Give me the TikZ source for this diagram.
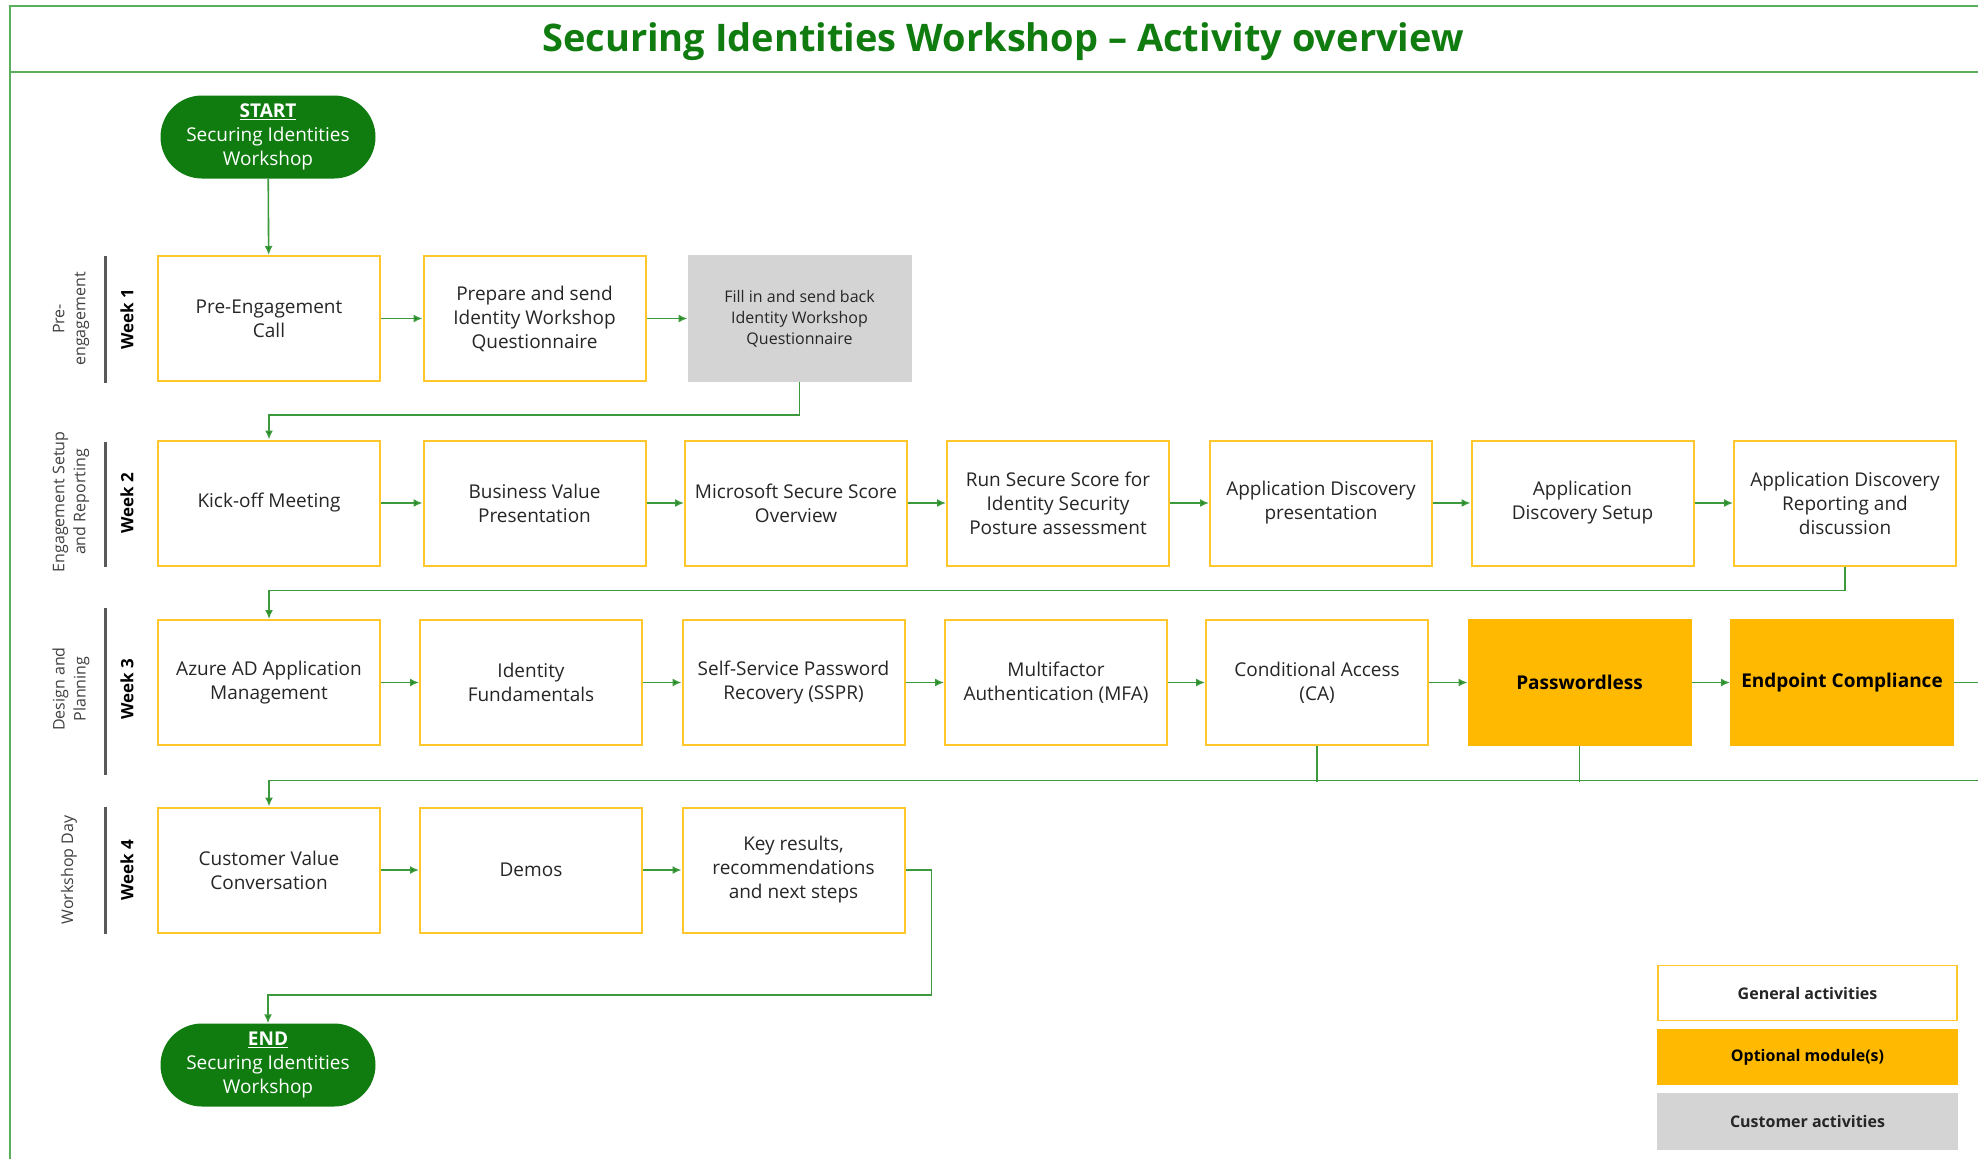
\documentclass[tikz,border=0pt]{standalone}
\usepackage{fontspec}
\setmainfont{Open Sans}
\usetikzlibrary{positioning,calc,arrows.meta,shapes.misc}

\definecolor{msgreen}{HTML}{107C10}
\definecolor{linegreen}{HTML}{3C9A3C}
\definecolor{framegreen}{HTML}{5BAE5B}
\definecolor{boxedge}{HTML}{FFC72C}
\definecolor{optfill}{HTML}{FFB900}
\definecolor{custfill}{HTML}{D4D4D4}
\definecolor{labelgray}{HTML}{404040}

\tikzset{
  act/.style={draw=boxedge, line width=2pt, fill=white, minimum width=222pt, minimum height=125pt,
    align=center, inner sep=2pt, text=black!85, font=\fontsize{19}{24}\selectfont},
  opt/.style={act, draw=optfill, fill=optfill, text=black, font=\fontsize{19}{24}\selectfont\bfseries},
  cust/.style={act, draw=custfill, fill=custfill, font=\fontsize{16}{21}\selectfont},
  pill/.style={rounded rectangle, fill=msgreen, text=white, minimum width=219pt, minimum height=83pt,
    align=center, inner sep=2pt, font=\fontsize{19}{24}\selectfont},
  flow/.style={draw=linegreen, line width=1.6pt, -{Latex[length=9pt,width=8pt,fill=msgreen]}},
  bus/.style={draw=linegreen, line width=1.6pt},
  week/.style={rotate=90, font=\fontsize{17}{20}\selectfont\bfseries},
  phase/.style={rotate=90, align=center, text=labelgray, font=\fontsize{16}{21}\selectfont},
  weekbar/.style={draw=black!65, line width=3pt},
  legend/.style={draw=boxedge, line width=1.5pt, fill=white, minimum width=299pt, minimum height=55pt,
    font=\fontsize{16}{18}\selectfont\bfseries, text=black!85}
}

\begin{document}
\begin{tikzpicture}[x=1pt, y=-1pt]
    \clip (0,0) rectangle (1978,1159);
    \fill[white] (0,0) rectangle (1978,1159);

    % frame and title
    \draw[framegreen, line width=2.5pt] (10,1159) -- (10,6) -- (1978,6);
    \draw[framegreen, line width=2.5pt] (10,72) -- (1978,72);
    \node[text=msgreen, font=\fontsize{38}{40}\selectfont\bfseries] (title) at (1003,42) {Securing Identities Workshop -- Activity overview};

    % start and end
    \node[pill] (start) at (268,137) {\underline{\textbf{START}}\\Securing Identities\\Workshop};
    \node[pill] (end) at (268,1065) {\underline{\textbf{END}}\\Securing Identities\\Workshop};

    % week 1
    \node[act] (precall) at (269,318.5) {Pre-Engagement\\Call};
    \node[act] (prepare) at (534.5,318.5) {Prepare and send\\Identity Workshop\\Questionnaire};
    \node[cust] (fillin) at (799.5,318.5) {Fill in and send back\\Identity Workshop\\Questionnaire};

    % week 2
    \node[act] (kickoff) at (269,503) {Kick-off Meeting};
    \node[act] (bizvalue) at (534.5,503) {Business Value\\Presentation};
    \node[act] (msscore) at (796,503) {Microsoft Secure Score\\Overview};
    \node[act] (runscore) at (1058,503) {Run Secure Score for\\Identity Security\\Posture assessment};
    \node[act] (adpres) at (1321,503) {Application Discovery\\presentation};
    \node[act] (adsetup) at (1582.5,503) {Application\\Discovery Setup};
    \node[act] (adreport) at (1845,503) {Application Discovery\\Reporting and\\discussion};

    % week 3
    \node[act] (azuread) at (269,682.5) {Azure AD Application\\Management};
    \node[act] (idfund) at (531,682.5) {Identity\\Fundamentals};
    \node[act] (sspr) at (793.5,682.5) {Self-Service Password\\Recovery (SSPR)};
    \node[act] (mfa) at (1056,682.5) {Multifactor\\Authentication (MFA)};
    \node[act] (condacc) at (1317,682.5) {Conditional Access\\(CA)};
    \node[opt] (pwdless) at (1579.5,682.5) {Passwordless};
    \node[opt] (endpoint) at (1842,682.5) {Endpoint Compliance};

    % week 4
    \node[act] (custval) at (269,870) {Customer Value\\Conversation};
    \node[act] (demos) at (531,870) {Demos};
    \node[act] (keyres) at (793.5,870) {Key results,\\recommendations\\and next steps};

    % week and phase labels
    \draw[weekbar] (105,256) -- (105,383);
    \draw[weekbar] (105,442) -- (105,567);
    \draw[weekbar] (105,608) -- (105,775);
    \draw[weekbar] (105,807) -- (105,934);
    \node[week] (w1) at (127,319) {Week 1};
    \node[week] (w2) at (127,503) {Week 2};
    \node[week] (w3) at (127,689) {Week 3};
    \node[week] (w4) at (127,870) {Week 4};
    \node[phase] (p1) at (71,319) {Pre-\\engagement};
    \node[phase] (p2) at (71,502) {Engagement Setup\\and Reporting};
    \node[phase] (p3) at (71,689) {Design and\\Planning};
    \node[phase] (p4) at (69,870) {Workshop Day};

    % connectors
    \draw[flow] (start) -- (precall);
    \draw[flow] (precall) -- (prepare);
    \draw[flow] (prepare) -- (fillin);
    \draw[flow] (fillin.south) -- ++(0,33) -| (kickoff.north);

    \draw[flow] (kickoff) -- (bizvalue);
    \draw[flow] (bizvalue) -- (msscore);
    \draw[flow] (msscore) -- (runscore);
    \draw[flow] (runscore) -- (adpres);
    \draw[flow] (adpres) -- (adsetup);
    \draw[flow] (adsetup) -- (adreport);
    \draw[flow] (adreport.south) -- ++(0,24) -| (azuread.north);

    \draw[flow] (azuread) -- (idfund);
    \draw[flow] (idfund) -- (sspr);
    \draw[flow] (sspr) -- (mfa);
    \draw[flow] (mfa) -- (condacc);
    \draw[flow] (condacc) -- (pwdless);
    \draw[flow] (pwdless) -- (endpoint);
    \draw[flow] (endpoint.east) -- ++(60,0) -- ++(0,98) -| (custval.north);
    \draw[bus] (condacc.south) -- ++(0,36);
    \draw[bus] (pwdless.south) -- ++(0,36);

    \draw[flow] (custval) -- (demos);
    \draw[flow] (demos) -- (keyres);
    \draw[flow] (keyres.east) -- ++(26,0) -- ++(0,125) -| (end.north);

    % legend
    \node[legend] (lgen) at (1807.5,993) {General activities};
    \node[legend, draw=optfill, fill=optfill, text=black] (lopt) at (1807.5,1057) {Optional module(s)};
    \node[legend, draw=custfill, fill=custfill] (lcust) at (1807.5,1121.5) {Customer activities};
\end{tikzpicture}
\end{document}
